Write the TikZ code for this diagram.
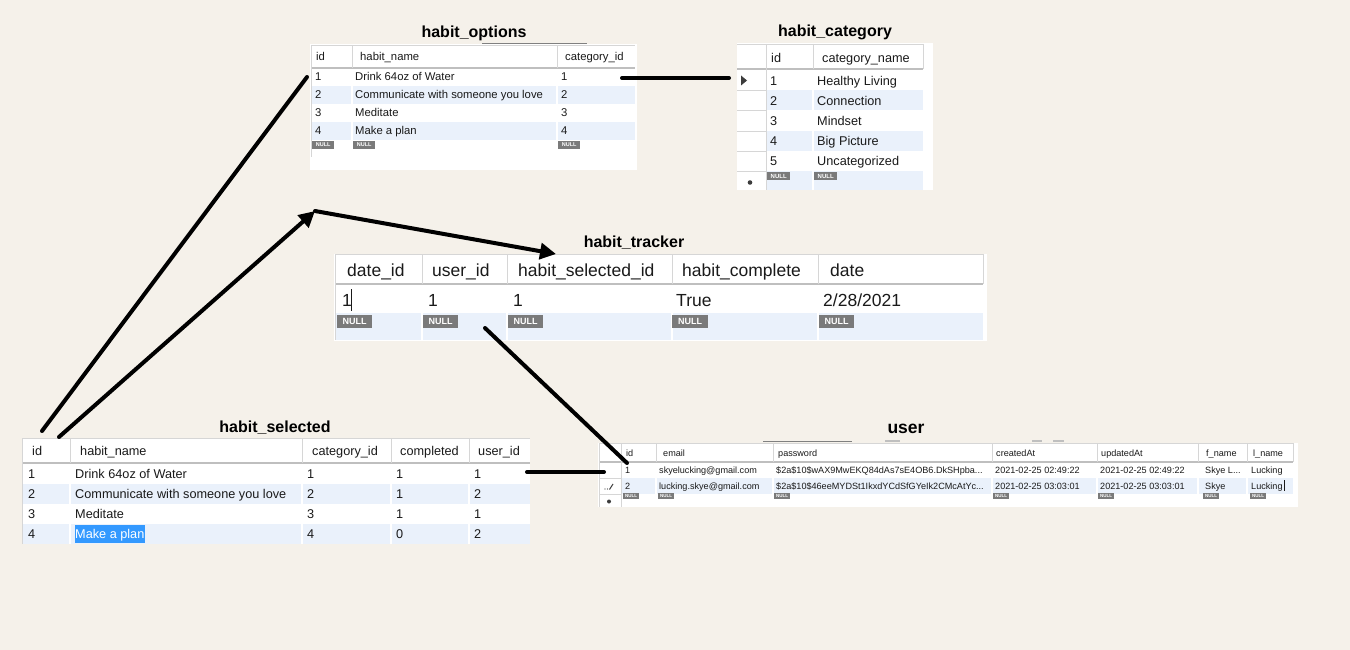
\documentclass[tikz,border=0pt]{standalone}
\usepackage{fontspec}
\setmainfont{Liberation Sans}
\usetikzlibrary{arrows.meta}

\definecolor{paper}{HTML}{F5F1EA}
\definecolor{rowblue}{HTML}{EAF1FB}
\definecolor{rulegray}{HTML}{D6D6D6}
\definecolor{headgray}{HTML}{BFBFBF}
\definecolor{tagfill}{HTML}{7A7A7A}
\definecolor{selblue}{HTML}{3399FF}
\definecolor{ink}{HTML}{1A1A1A}
\definecolor{marker}{HTML}{3C3C3C}

\tikzset{
  tabletitle/.style={font=\bfseries\fontsize{16}{16}\selectfont, inner sep=0pt},
  cell/.style={anchor=base west, inner sep=0pt, text=ink},
  txtS/.style={font=\fontsize{11.3}{12}\selectfont},
  txtM/.style={font=\fontsize{12.7}{14}\selectfont},
  txtL/.style={font=\fontsize{17.5}{19}\selectfont},
  txtT/.style={font=\fontsize{9.1}{10}\selectfont},
  nulltag/.style={fill=tagfill, text=white, inner sep=0pt, anchor=north west},
  headrule/.style={draw=headgray, line width=1.5pt},
  thinrule/.style={draw=rulegray, line width=0.8pt},
  colgap/.style={draw=white, line width=1.6pt},
  remnant/.style={draw=gray, line width=0.8pt},
  link/.style={draw=black, line width=4pt, line cap=round},
  linkhead/.style={-{Triangle[length=16pt,width=16pt]}},
}

% grey NULL marker: name, x, y (top left), width, height, font size
\newcommand{\tagnull}[6]{%
  \node[nulltag, minimum width=#4pt, minimum height=#5pt,
        font=\bfseries\fontsize{#6}{#6}\selectfont] (#1) at (#2,#3) {NULL};}

\begin{document}
\begin{tikzpicture}[x=1pt, y=-1pt]
\fill[paper] (0,0) rectangle (1350,650);
\useasboundingbox (0,0) rectangle (1350,650);

% ---------------- habit_options ----------------
\node[tabletitle] (opt-title) at (474,33) {habit\_options};
\draw[remnant] (482,43) -- (587,43);
\fill[white] (310,44) rectangle (637,170);
\fill[rowblue] (311,86) rectangle (635,104);
\fill[rowblue] (311,122) rectangle (635,140);
\draw[thinrule] (311,45) -- (635,45);
\draw[headrule] (311,68) -- (635,68);
\foreach \x in {352,557} {
  \draw[thinrule] (\x,45) -- (\x,68);
  \draw[colgap] (\x,69) -- (\x,148);
}
\draw[thinrule] (311,45) -- (311,157);
\node[cell,txtS] (opt-h1) at (316,61) {id};
\node[cell,txtS] (opt-h2) at (360,61) {habit\_name};
\node[cell,txtS] (opt-h3) at (565,61) {category\_id};
\foreach \name [count=\r] in {Drink 64oz of Water, Communicate with someone you love, Meditate, Make a plan} {
  \node[cell,txtS] (opt-\r-id) at (315,63+18*\r) {\r};
  \node[cell,txtS] (opt-\r-name) at (355,63+18*\r) {\name};
  \node[cell,txtS] (opt-\r-cat) at (561,63+18*\r) {\r};
}
\tagnull{opt-n1}{312}{141}{22}{7.5}{5.5}
\tagnull{opt-n2}{353}{141}{22}{7.5}{5.5}
\tagnull{opt-n3}{558}{141}{22}{7.5}{5.5}

% ---------------- habit_category ----------------
\node[tabletitle] (cat-title) at (835,32) {habit\_category};
\fill[white] (737,43) rectangle (933,190);
\fill[rowblue] (767,90) rectangle (923,110);
\fill[rowblue] (767,131) rectangle (923,151);
\fill[rowblue] (767,171) rectangle (923,190);
\draw[thinrule] (737,44) -- (923,44);
\draw[headrule] (737,69) -- (923,69);
\foreach \y in {90,110,131,151,171} { \draw[thinrule] (737,\y) -- (766,\y); }
\draw[thinrule] (766,44) -- (766,190);
\draw[thinrule] (813,44) -- (813,69);
\draw[colgap] (813,70) -- (813,190);
\draw[thinrule] (923,44) -- (923,69);
\node[cell,txtM] (cat-h1) at (771,62.5) {id};
\node[cell,txtM] (cat-h2) at (822,62.5) {category\_name};
\foreach \name [count=\r] in {Healthy Living, Connection, Mindset, Big Picture, Uncategorized} {
  \node[cell,txtM] (cat-\r-id) at (770,65+20.1*\r) {\r};
  \node[cell,txtM] (cat-\r-name) at (817,65+20.1*\r) {\name};
}
\fill[marker] (741,75.5) -- (747,80.5) -- (741,85.5) -- cycle;
\fill[marker] (750,182.5) circle (2.3);
\tagnull{cat-n1}{767}{172}{23}{8}{6}
\tagnull{cat-n2}{814}{172}{23}{8}{6}

% ---------------- habit_tracker ----------------
\node[tabletitle] (trk-title) at (634,243) {habit\_tracker};
\fill[white] (334,254) rectangle (987,341);
\fill[rowblue] (336,313) rectangle (983,340);
\draw[thinrule] (335,254) -- (983,254);
\draw[headrule] (335,284) -- (983,284);
\draw[thinrule] (335,254) -- (335,340);
\foreach \x in {422,507,672,818} {
  \draw[thinrule] (\x,254) -- (\x,284);
  \draw[colgap] (\x,285) -- (\x,340);
}
\draw[thinrule] (983,254) -- (983,284);
\node[cell,txtL] (trk-h1) at (347,276.3) {date\_id};
\node[cell,txtL] (trk-h2) at (432,276.3) {user\_id};
\node[cell,txtL] (trk-h3) at (518,276.3) {habit\_selected\_id};
\node[cell,txtL] (trk-h4) at (682,276.3) {habit\_complete};
\node[cell,txtL] (trk-h5) at (830,276.3) {date};
\node[cell,txtL] (trk-1-date) at (342,306.3) {1};
\draw[ink, line width=1pt] (351,289) -- (351,311);
\node[cell,txtL] (trk-1-user) at (428,306.3) {1};
\node[cell,txtL] (trk-1-sel) at (513,306.3) {1};
\node[cell,txtL] (trk-1-done) at (676,306.3) {True};
\node[cell,txtL] (trk-1-day) at (823,306.3) {2/28/2021};
\tagnull{trk-n1}{337}{315}{35}{13}{9}
\tagnull{trk-n2}{423}{315}{35}{13}{9}
\tagnull{trk-n3}{508}{315}{35}{13}{9}
\tagnull{trk-n4}{672}{315}{36}{13}{9}
\tagnull{trk-n5}{819}{315}{35}{13}{9}

% ---------------- habit_selected ----------------
\node[tabletitle] (sel-title) at (275,428) {habit\_selected};
\fill[white] (22,438) rectangle (530,544);
\fill[rowblue] (23,484) rectangle (530,504);
\fill[rowblue] (23,524) rectangle (530,544);
\draw[thinrule] (22,438) -- (530,438);
\draw[headrule] (22,463) -- (530,463);
\draw[thinrule] (22,438) -- (22,544);
\foreach \x in {70,302,391,469} {
  \draw[thinrule] (\x,438) -- (\x,463);
  \draw[colgap] (\x,464) -- (\x,544);
}
\node[cell,txtM] (sel-h1) at (32,455.6) {id};
\node[cell,txtM] (sel-h2) at (80,455.6) {habit\_name};
\node[cell,txtM] (sel-h3) at (312,455.6) {category\_id};
\node[cell,txtM] (sel-h4) at (400,455.6) {completed};
\node[cell,txtM] (sel-h5) at (478,455.6) {user\_id};
\foreach \name/\cat/\done/\uid [count=\r] in
    {Drink 64oz of Water/1/1/1, Communicate with someone you love/2/1/2, Meditate/3/1/1} {
  \node[cell,txtM] (sel-\r-id) at (28,458.6+20*\r) {\r};
  \node[cell,txtM] (sel-\r-name) at (75,458.6+20*\r) {\name};
  \node[cell,txtM] (sel-\r-cat) at (307,458.6+20*\r) {\cat};
  \node[cell,txtM] (sel-\r-done) at (396,458.6+20*\r) {\done};
  \node[cell,txtM] (sel-\r-user) at (474,458.6+20*\r) {\uid};
}
\fill[selblue] (75,525) rectangle (145,543);
\node[cell,txtM] (sel-4-id) at (28,538.6) {4};
\node[cell,txtM,text=white] (sel-4-name) at (75,538.6) {Make a plan};
\node[cell,txtM] (sel-4-cat) at (307,538.6) {4};
\node[cell,txtM] (sel-4-done) at (396,538.6) {0};
\node[cell,txtM] (sel-4-user) at (474,538.6) {2};

% ---------------- user ----------------
\node[tabletitle, font=\bfseries\fontsize{17.5}{18}\selectfont] (usr-title) at (906,429) {user};
\draw[remnant] (763,441) -- (852,441);
\draw[draw=lightgray, line width=1.6pt] (885,441) -- (900,441);
\draw[draw=lightgray, line width=1.6pt] (1032,441) -- (1042,441);
\draw[draw=lightgray, line width=1.6pt] (1053,441) -- (1064,441);
\fill[white] (598,443) rectangle (1298,507);
\fill[rowblue] (622,478) rectangle (1293,494);
\draw[thinrule] (599,443) -- (1293,443);
\draw[headrule] (599,462) -- (1293,462);
\draw[thinrule] (599,443) -- (599,507);
\draw[thinrule] (621,443) -- (621,507);
\foreach \y in {478,494} { \draw[thinrule] (599,\y) -- (621,\y); }
\foreach \x in {656,773,992,1097,1198,1247} {
  \draw[thinrule] (\x,443) -- (\x,462);
  \draw[colgap] (\x,463) -- (\x,507);
}
\draw[thinrule] (1293,443) -- (1293,462);
\node[cell,txtT] (usr-h1) at (626,456.5) {id};
\node[cell,txtT] (usr-h2) at (663,456.5) {email};
\node[cell,txtT] (usr-h3) at (778,456.5) {password};
\node[cell,txtT] (usr-h4) at (996,456.5) {createdAt};
\node[cell,txtT] (usr-h5) at (1101,456.5) {updatedAt};
\node[cell,txtT] (usr-h6) at (1206,456.5) {f\_name};
\node[cell,txtT] (usr-h7) at (1253,456.5) {l\_name};
\node[cell,txtT] (usr-1-id) at (625,473.5) {1};
\node[cell,txtT] (usr-1-mail) at (659,473.5) {skyelucking@gmail.com};
\node[cell,txtT] (usr-1-pw) at (776,473.5) {\$2a\$10\$wAX9MwEKQ84dAs7sE4OB6.DkSHpba...};
\node[cell,txtT] (usr-1-made) at (995,473.5) {2021-02-25 02:49:22};
\node[cell,txtT] (usr-1-upd) at (1100,473.5) {2021-02-25 02:49:22};
\node[cell,txtT] (usr-1-first) at (1205,473.5) {Skye L...};
\node[cell,txtT] (usr-1-last) at (1251,473.5) {Lucking};
\node[cell,txtT] (usr-2-id) at (625,489.5) {2};
\node[cell,txtT] (usr-2-mail) at (659,489.5) {lucking.skye@gmail.com};
\node[cell,txtT] (usr-2-pw) at (776,489.5) {\$2a\$10\$46eeMYDSt1IkxdYCdSfGYeIk2CMcAtYc...};
\node[cell,txtT] (usr-2-made) at (995,489.5) {2021-02-25 03:03:01};
\node[cell,txtT] (usr-2-upd) at (1100,489.5) {2021-02-25 03:03:01};
\node[cell,txtT] (usr-2-first) at (1205,489.5) {Skye};
\node[cell,txtT] (usr-2-last) at (1251,489.5) {Lucking};
\draw[ink, line width=0.7pt] (1284,480) -- (1284,491);
% row markers: edit pencil and new-row star
\fill[marker] (605,489) circle (0.7);
\fill[marker] (607.5,489) circle (0.7);
\draw[marker, line width=1pt] (609.5,489.5) -- (613,484);
\fill[marker] (609,501.5) circle (2);
\foreach \x [count=\k] in {623,658,774,993,1098,1203,1250} {
  \tagnull{usr-n\k}{\x}{492.5}{16}{6}{4.5}
}

% ---------------- connectors ----------------
\coordinate (selA) at (42,431);
\coordinate (optRow) at (307,77);
\coordinate (selB) at (59,437);
\coordinate (bend) at (315,211);
\coordinate (trkSel) at (556,254);
\coordinate (optCat) at (622,78);
\coordinate (catRow) at (729,78);
\coordinate (selUser) at (527,472);
\coordinate (userRow) at (604,472);
\coordinate (trkUser) at (485,328);
\coordinate (userId) at (627,463);

\draw[link] (selA) -- (optRow);
\draw[link, linkhead] (selB) -- (bend);
\draw[link, linkhead] (bend) -- (trkSel);
\draw[link] (optCat) -- (catRow);
\draw[link] (selUser) -- (userRow);
\draw[link] (trkUser) -- (userId);
\end{tikzpicture}
\end{document}
